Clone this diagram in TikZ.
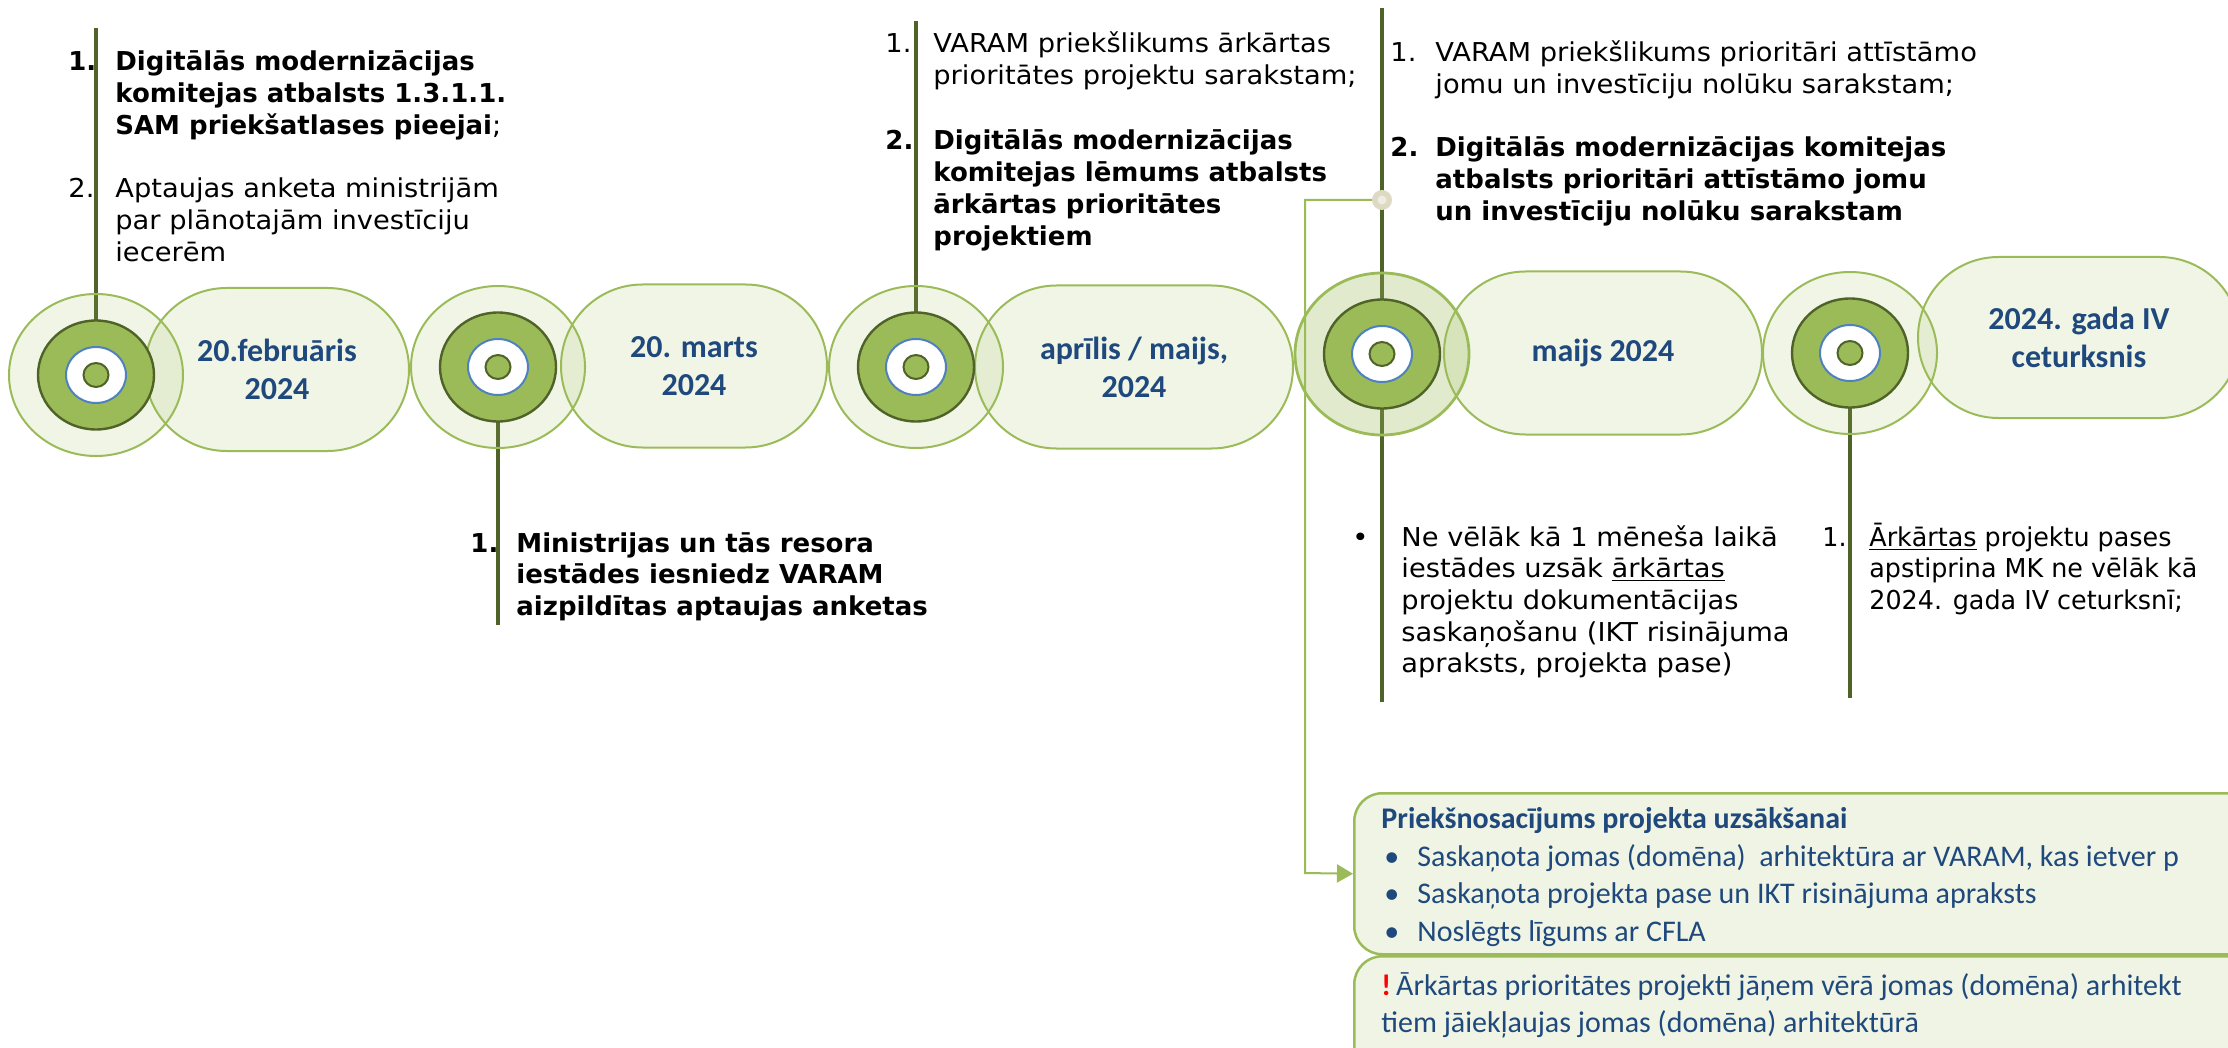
\documentclass[tikz,border=0pt]{standalone}
\usepackage{fontspec}
\setmainfont{DejaVu Sans}[FakeStretch=1.05,BoldFeatures={FakeStretch=1.0}]
\newfontfamily\calfont{Carlito}
\usetikzlibrary{shapes.geometric,shapes.misc,arrows.meta}
\definecolor{olivedk}{HTML}{4F6228}
\definecolor{lgreen}{HTML}{9BBB59}
\definecolor{dblue}{HTML}{1F497D}
\definecolor{rblue}{HTML}{4F81BD}
\definecolor{boxfill}{HTML}{EFF4E4}
\definecolor{dotouter}{HTML}{DDD9C3}
\definecolor{dotinner}{HTML}{EEECE1}
\newcommand\vfont{\fontsize{13pt}{15.85pt}\selectfont}
\newcommand\narrowtxt[1]{\scalebox{0.93}[1]{#1}}
\begin{document}
\begin{tikzpicture}[x=0.5pt,y=-0.5pt,
  vtxt/.style={anchor=base west,inner sep=0,font=\vfont,text=black},
  vbold/.style={vtxt,font=\vfont\bfseries},
  vline/.style={draw=olivedk,line width=1.75pt},
  outerring/.style={ellipse,draw=lgreen,line width=1pt,fill=lgreen,fill opacity=0.15,minimum width=87pt,minimum height=81pt,inner sep=0},
  darkring/.style={ellipse,draw=olivedk,line width=1.2pt,fill=lgreen,minimum width=58pt,minimum height=54.5pt,inner sep=0},
  whitering/.style={ellipse,draw=rblue,line width=1pt,fill=white,minimum width=30pt,minimum height=28pt,inner sep=0},
  innerring/.style={ellipse,draw=olivedk,line width=1pt,fill=lgreen,minimum width=12.5pt,minimum height=12pt,inner sep=0},
  pill/.style={rounded rectangle,draw=lgreen,line width=1pt,fill=lgreen,fill opacity=0.15,text opacity=1,minimum height=81.5pt,inner sep=0,text=dblue,align=center,font=\calfont\fontsize{16pt}{19pt}\selectfont\bfseries},
  infobox/.style={rectangle,rounded corners=14pt,draw=lgreen,line width=1.25pt,fill=boxfill,minimum width=480pt,anchor=north west,inner sep=0},
  btxt/.style={anchor=base west,inner sep=0,text=dblue,font=\calfont\fontsize{15pt}{18pt}\selectfont},
  conn/.style={draw=lgreen,line width=1pt,-{Triangle[length=8pt,width=9pt]}}
]
\useasboundingbox (0,0) rectangle (2228,1048);
\clip (0,0) rectangle (2228,1048);

% ring centres and line ends
\coordinate (c1) at (96,375);
\coordinate (c2) at (498,367);
\coordinate (c3) at (916,367);
\coordinate (c4) at (1382,354);
\coordinate (c5) at (1850,353);
\coordinate (l1t) at (96,28);
\coordinate (l2b) at (498,625);
\coordinate (l3t) at (916,21);
\coordinate (l4t) at (1382,8);
\coordinate (l4b) at (1382,702);
\coordinate (l5b) at (1850,698);

\draw[vline] (l1t) -- (c1);
\draw[vline] (c2) -- (l2b);
\draw[vline] (l3t) -- (c3);
\draw[vline] (l4t) -- (l4b);
\draw[vline] (c5) -- (l5b);

% boxes
\node[infobox,minimum height=80.5pt] (box1) at (1353,792) {};
\node[infobox,minimum height=90pt] (box2) at (1353,955) {};

% connector
\coordinate (k1) at (1305,200);
\coordinate (k2) at (1305,873);
\node[circle,minimum size=10pt,inner sep=0] (dot) at (1382,200) {};
\draw[conn] (dot.center) -- (k1) -- (k2) -- (box1.west);
\node[circle,fill=dotouter,minimum size=10pt,inner sep=0] (dotf) at (dot.center) {};
\node[circle,fill=dotinner,minimum size=4.5pt,inner sep=0] (dotc) at (dot.center) {};

% pills
\node[pill,minimum width=132pt] (p1) at (277,369.5) {20.februāris\\2024};
\node[pill,minimum width=133pt] (p2) at (694,366) {20. marts\\2024};
\node[pill,minimum width=159pt] (p3) at (1134,367) {aprīlis / maijs,\\2024};
\node[pill,minimum width=159pt] (p4) at (1603,353) {maijs 2024};
\node[pill,minimum width=161pt,minimum height=80.5pt] (p5) at (2079,337.5) {2024. gada IV\\ceturksnis};

% rings
\node[outerring] (ro1) at (c1) {};
\node[outerring] (ro2) at (c2) {};
\node[outerring] (ro3) at (c3) {};
\node[outerring,fill opacity=0.3,line width=1.4pt] (ro4) at (c4) {};
\node[outerring] (ro5) at (c5) {};
\foreach \i in {1,...,5}{
  \node[darkring] (rd\i) at (c\i) {};
  \node[whitering] (rw\i) at (c\i) {};
  \node[innerring] (ri\i) at (c\i) {};
}

% block 1
\node[vbold] (n1a) at (68,71) {1.};
\node[vbold] (t1a) at (115,71) {Digitālās modernizācijas};
\node[vbold] (t1b) at (115,102.7) {komitejas atbalsts 1.3.1.1.};
\node[vtxt] (t1c) at (115,134.4) {\textbf{SAM priekšatlases pieejai};};
\node[vtxt] (n1b) at (68,198) {2.};
\node[vtxt] (t1d) at (115,198) {Aptaujas anketa ministrijām};
\node[vtxt] (t1e) at (115,229.7) {par plānotajām investīciju};
\node[vtxt] (t1f) at (115,261.4) {iecerēm};

% block 2
\node[vbold] (n2a) at (470,552) {1.};
\node[vbold] (t2a) at (516,552) {Ministrijas un tās resora};
\node[vbold] (t2b) at (516,583.7) {iestādes iesniedz VARAM};
\node[vbold] (t2c) at (516,615.4) {aizpildītas aptaujas anketas};

% block 3
\node[vtxt] (n3a) at (885,53) {1.};
\node[vtxt] (t3a) at (933,53) {VARAM priekšlikums ārkārtas};
\node[vtxt] (t3b) at (933,85) {prioritātes projektu sarakstam;};
\node[vbold] (n3b) at (885,150) {2.};
\node[vbold] (t3c) at (933,150) {Digitālās modernizācijas};
\node[vbold] (t3d) at (933,181.7) {komitejas lēmums atbalsts};
\node[vbold] (t3e) at (933,213.4) {ārkārtas prioritātes};
\node[vbold] (t3f) at (933,245.1) {projektiem};

% block 4
\node[vtxt] (n4a) at (1390,62) {1.};
\node[vtxt] (t4a) at (1435,62) {VARAM priekšlikums prioritāri attīstāmo};
\node[vtxt] (t4b) at (1435,93.7) {jomu un investīciju nolūku sarakstam;};
\node[vbold] (n4b) at (1390,157) {2.};
\node[vbold] (t4c) at (1435,157) {Digitālās modernizācijas komitejas};
\node[vbold] (t4d) at (1435,188.7) {atbalsts prioritāri attīstāmo jomu};
\node[vbold] (t4e) at (1435,220.4) {un investīciju nolūku sarakstam};

% block 5
\node[vtxt] (n5a) at (1352,546) {•};
\node[vtxt] (t5a) at (1401,546) {Ne vēlāk kā 1 mēneša laikā};
\node[vtxt] (t5b) at (1401,577.7) {iestādes uzsāk \underline{ārkārtas}};
\node[vtxt] (t5c) at (1401,609.4) {projektu dokumentācijas};
\node[vtxt] (t5d) at (1401,641.1) {saskaņošanu (IKT risinājuma};
\node[vtxt] (t5e) at (1401,672.8) {apraksts, projekta pase)};

% block 6
\node[vtxt] (n6a) at (1822,546) {\narrowtxt{1.}};
\node[vtxt] (t6a) at (1869,546) {\narrowtxt{\underline{Ārkārtas} projektu pases}};
\node[vtxt] (t6b) at (1869,577.7) {\narrowtxt{apstiprina MK ne vēlāk kā}};
\node[vtxt] (t6c) at (1869,609.4) {\narrowtxt{2024. gada IV ceturksnī;}};

% box texts
\node[btxt,font=\calfont\fontsize{15pt}{18pt}\selectfont\bfseries] (bt0) at (1381,828) {Priekšnosacījums projekta uzsākšanai};
\node[btxt] (bb1) at (1384,866) {•};
\node[btxt] (bt1) at (1417,866) {Saskaņota jomas (domēna)\ \ arhitektūra ar VARAM, kas ietver p};
\node[btxt] (bb2) at (1384,903) {•};
\node[btxt] (bt2) at (1417,903) {Saskaņota projekta pase un IKT risinājuma apraksts};
\node[btxt] (bb3) at (1384,941) {•};
\node[btxt] (bt3) at (1417,941) {Noslēgts līgums ar CFLA};
\node[btxt] (bt4) at (1381,995) {{\color{red}\bfseries!}\,Ārkārtas prioritātes projekti jāņem vērā jomas (domēna) arhitekt};
\node[btxt] (bt5) at (1381,1032) {tiem jāiekļaujas jomas (domēna) arhitektūrā};
\end{tikzpicture}
\end{document}
